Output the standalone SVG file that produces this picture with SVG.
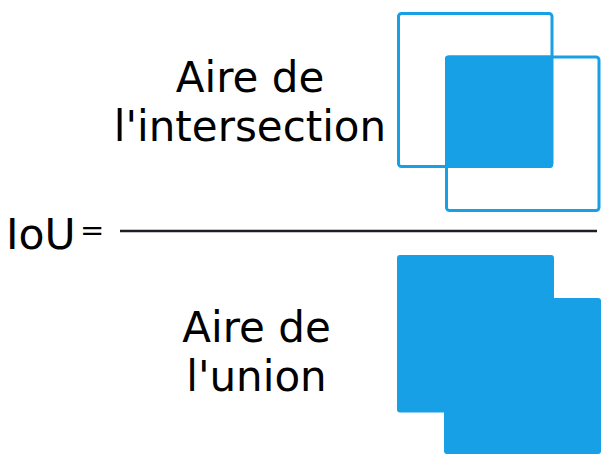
<svg xmlns="http://www.w3.org/2000/svg" width="613" height="468" viewBox="0 0 613 468">
<style>
text{font-family:"DejaVu Sans","Liberation Sans",sans-serif;fill:#000}
.big{font-size:42px;text-anchor:middle}
.box{fill:none;stroke:#18a0e6;stroke-width:3}
.fill{fill:#18a0e6;stroke:none}
</style>
<rect width="613" height="468" fill="#fff"/>
<g id="numerator">
<text class="big" x="250" y="92">Aire de</text>
<text class="big" x="250" y="141">l'intersection</text>
</g>
<g id="intersection-figure">
<rect class="fill" x="445" y="55.5" width="108" height="112.5" rx="3"/>
<rect class="box" x="398.5" y="13.5" width="153.5" height="153" rx="3"/>
<rect class="box" x="446.5" y="57" width="152.5" height="153.5" rx="3"/>
</g>
<g id="label">
<text x="6" y="248.5" style="font-size:42.5px">IoU</text>
<text x="80" y="240" style="font-size:29px">=</text>
</g>
<g id="connectors">
<line x1="120" y1="231" x2="597" y2="231" stroke="#1e1e24" stroke-width="2.5"/>
</g>
<g id="denominator">
<text class="big" x="256.5" y="342">Aire de</text>
<text class="big" x="256.5" y="391">l'union</text>
</g>
<g id="union-figure">
<rect class="fill" x="397" y="255" width="157" height="157.5" rx="3"/>
<rect class="fill" x="444" y="298" width="157" height="156" rx="3"/>
</g>
</svg>
